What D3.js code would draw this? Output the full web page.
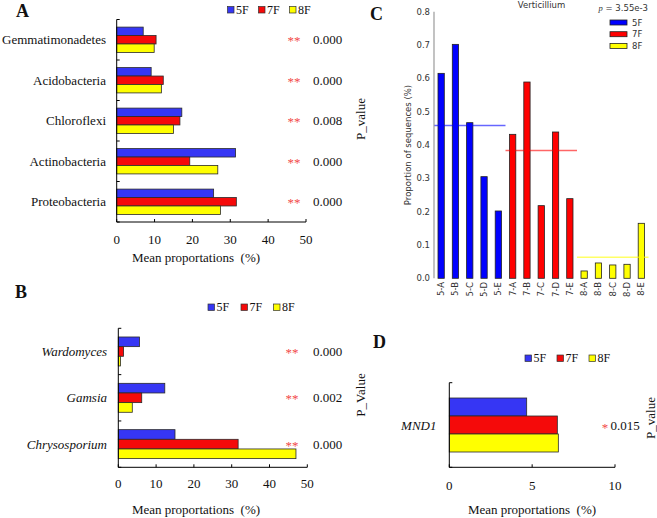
<!DOCTYPE html>
<html>
<head>
<meta charset="utf-8">
<script src="https://cdn.jsdelivr.net/npm/d3@7/dist/d3.min.js"></script>
<style>
  html, body { margin: 0; padding: 0; background: #fff; }
  svg { display: block; }
</style>
</head>
<body>
<script>
// ---------- DATA ----------
const seriesNames = ["5F", "7F", "8F"];

// Panel A (bacteria phyla)
const catA = ["Gemmatimonadetes", "Acidobacteria", "Chloroflexi", "Actinobacteria", "Proteobacteria"];
const a5F = [7.0, 9.1, 17.2, 31.4, 25.6];
const a7F = [10.4, 12.3, 16.7, 19.3, 31.6];
const a8F = [9.9, 11.8, 15.0, 26.7, 27.4];
const sigA = ["**", "**", "**", "**", "**"];
const pA = ["0.000", "0.000", "0.008", "0.000", "0.000"];
const ticksA = [0, 10, 20, 30, 40, 50];

// Panel B (fungal genera)
const catB = ["Wardomyces", "Gamsia", "Chrysosporium"];
const b5F = [5.6, 12.3, 15.0];
const b7F = [1.4, 6.2, 31.7];
const b8F = [0.6, 3.7, 47.0];
const sigB = ["**", "**", "**"];
const pB = ["0.000", "0.002", "0.000"];
const ticksB = [0, 10, 20, 30, 40, 50];

// Panel C (Verticillium per sample)
const samplesC = ["5-A","5-B","5-C","5-D","5-E","7-A","7-B","7-C","7-D","7-E","8-A","8-B","8-C","8-D","8-E"];
const groupC = ["5F","5F","5F","5F","5F","7F","7F","7F","7F","7F","8F","8F","8F","8F","8F"];
const valuesC = [0.615, 0.702, 0.467, 0.305, 0.202, 0.432, 0.589, 0.218, 0.439, 0.239, 0.022, 0.046, 0.040, 0.042, 0.165];
const ticksC = [0.0, 0.1, 0.2, 0.3, 0.4, 0.5, 0.6, 0.7, 0.8];
const titleC = "Verticillium";
const pC = "3.55e-3";

// Panel D (gene)
const catD = ["MND1"];
const d5F = [4.67];
const d7F = [6.52];
const d8F = [6.58];
const sigD = ["*"];
const pD = ["0.015"];
const ticksD = [0, 5, 10];

// ---------- STYLE ----------
const colorsHB = { "5F": "#3636f4", "7F": "#f50a0a", "8F": "#ffff00" };
const colorsC = { "5F": "#0000ff", "7F": "#ff0000", "8F": "#ffff00" };
const serif = "'Liberation Serif', 'Times New Roman', serif";
const sans = "'DejaVu Sans', sans-serif";

const W = 657, H = 518;
const svg = d3.select("body").append("svg").attr("width", W).attr("height", H);

function hbarPanel(o) {
  const g = svg.append("g");
  const x = d3.scaleLinear().domain(o.xDomain).range([o.x0, o.x1]);
  const y = d3.scaleBand().domain(o.cats).range([o.y0, o.y1]);
  const inner = d3.scaleBand().domain(seriesNames).range([0, y.bandwidth()]).paddingOuter(o.outer);
  const rows = o.cats.map((c, i) => ({ cat: c, vals: [o.s5[i], o.s7[i], o.s8[i]] }));

  rows.forEach(r => {
    r.vals.forEach((v, j) => {
      g.append("rect")
        .attr("x", x(0))
        .attr("y", y(r.cat) + inner(seriesNames[j]))
        .attr("width", x(v) - x(0))
        .attr("height", inner.bandwidth())
        .attr("fill", colorsHB[seriesNames[j]])
        .attr("stroke", "#2a2a2a")
        .attr("stroke-width", 0.8);
    });
  });

  // axes lines
  g.append("line").attr("x1", x(o.xDomain[0])).attr("x2", x(o.xDomain[0]))
    .attr("y1", o.y0).attr("y2", o.y1).attr("stroke", "#000").attr("stroke-width", 1);
  g.append("line").attr("x1", x(o.xDomain[0])).attr("x2", x(o.xDomain[1]))
    .attr("y1", o.y1).attr("y2", o.y1).attr("stroke", "#000").attr("stroke-width", 1);
  // inward y ticks at band boundaries
  const bounds = o.cats.map(c => y(c)).concat([o.y1]);
  bounds.forEach(b => {
    g.append("line").attr("x1", x(0)).attr("x2", x(0) + 3).attr("y1", b).attr("y2", b)
      .attr("stroke", "#000").attr("stroke-width", 1);
  });
  // x ticks inward + labels
  o.ticks.forEach(t => {
    g.append("line").attr("x1", x(t)).attr("x2", x(t)).attr("y1", o.y1).attr("y2", o.y1 - 3)
      .attr("stroke", "#000").attr("stroke-width", 1);
    g.append("text").attr("x", x(t)).attr("y", o.tickY).attr("text-anchor", "middle")
      .attr("font-family", serif).attr("font-size", 13).attr("fill", "#111").text(t);
  });
  g.append("text").attr("x", o.titleX).attr("y", o.titleY).attr("text-anchor", "middle")
    .attr("font-family", serif).attr("font-size", 13).attr("fill", "#111")
    .attr("xml:space", "preserve").text("Mean proportations  (%)");

  // category labels
  o.cats.forEach(c => {
    g.append("text").attr("x", o.labelX).attr("y", y(c) + y.bandwidth() / 2 + 4.5)
      .attr("text-anchor", "end").attr("font-family", serif).attr("font-size", 13)
      .attr("font-style", o.italic ? "italic" : "normal").attr("fill", "#111").text(c);
  });
  // significance + p-values
  o.cats.forEach((c, i) => {
    g.append("text").attr("x", o.starX).attr("y", y(c) + y.bandwidth() / 2 + (o.sig[i].length > 1 ? 5.5 : 7))
      .attr("text-anchor", "middle").attr("font-family", serif).attr("font-size", 13)
      .attr("fill", "#f24848").text(o.sig[i]);
    g.append("text").attr("x", o.pX).attr("y", y(c) + y.bandwidth() / 2 + 4.5)
      .attr("font-family", serif).attr("font-size", 13).attr("fill", "#111").text(o.p[i]);
  });
  // legend
  seriesNames.forEach((s, j) => {
    g.append("rect").attr("x", o.legX[j]).attr("y", o.legY).attr("width", 6.5).attr("height", 6.5)
      .attr("fill", colorsHB[s]).attr("stroke", "#333").attr("stroke-width", 0.7);
    g.append("text").attr("x", o.legX[j] + 8.5).attr("y", o.legY + 7)
      .attr("font-family", serif).attr("font-size", 12).attr("fill", "#111").text(s);
  });
  // panel letter
  g.append("text").attr("x", o.letterX).attr("y", o.letterY).attr("font-family", serif)
    .attr("font-weight", "bold").attr("font-size", 18).attr("fill", "#111").text(o.letter);
}

// Panel A
hbarPanel({
  cats: catA, s5: a5F, s7: a7F, s8: a8F, sig: sigA, p: pA, ticks: ticksA,
  xDomain: [0, 50], x0: 116.7, x1: 306, y0: 19.5, y1: 222, outer: 0.9,
  tickY: 244, titleX: 196, titleY: 262, labelX: 106, italic: false,
  starX: 294, pX: 313, legX: [227.5, 258.5, 289.5], legY: 6.5,
  letter: "A", letterX: 16, letterY: 17
});

// Panel B
hbarPanel({
  cats: catB, s5: b5F, s7: b7F, s8: b8F, sig: sigB, p: pB, ticks: ticksB,
  xDomain: [0, 50], x0: 118.3, x1: 307.3, y0: 328.3, y1: 467.3, outer: 0.9,
  tickY: 487.5, titleX: 196, titleY: 514, labelX: 107, italic: true,
  starX: 292, pX: 313, legX: [208, 241, 273.5], legY: 304,
  letter: "B", letterX: 15, letterY: 298
});

// Panel D
hbarPanel({
  cats: catD, s5: d5F, s7: d7F, s8: d8F, sig: sigD, p: pD, ticks: ticksD,
  xDomain: [0, 10], x0: 449.3, x1: 615, y0: 382.7, y1: 467.3, outer: 0.85,
  tickY: 489.5, titleX: 532, titleY: 514, labelX: 436.5, italic: true,
  starX: 605, pX: 610.5, legX: [525, 557, 589], legY: 355,
  letter: "D", letterX: 373, letterY: 348
});

// rotated P_value labels
function rotText(txt, cx, cy) {
  svg.append("text").attr("transform", `translate(${cx},${cy}) rotate(-90)`)
    .attr("text-anchor", "middle").attr("font-family", serif).attr("font-size", 13)
    .attr("fill", "#111").text(txt);
}
rotText("P_value", 364.5, 119);
rotText("P_Value", 364.5, 395);
rotText("P_value", 654.5, 418);

// ---------- Panel C ----------
(function () {
  const g = svg.append("g");
  const x = d3.scaleBand().domain(samplesC).range([434, 648.5]).paddingInner(0.56).paddingOuter(0.28);
  const y = d3.scaleLinear().domain([0, 0.8]).range([278.3, 11.7]);
  const step = x.step();

  g.selectAll("rect.bar").data(samplesC).enter().append("rect")
    .attr("x", d => x(d))
    .attr("y", (d, i) => y(valuesC[i]))
    .attr("width", x.bandwidth())
    .attr("height", (d, i) => y(0) - y(valuesC[i]))
    .attr("fill", (d, i) => colorsC[groupC[i]])
    .attr("stroke", "#222").attr("stroke-width", 0.8);

  // group mean lines
  seriesNames.forEach(s => {
    const idx = groupC.map((gname, i) => gname === s ? i : -1).filter(i => i >= 0);
    const m = d3.mean(idx, i => valuesC[i]);
    const xs = x(samplesC[idx[0]]) - step * 0.28;
    const xe = x(samplesC[idx[idx.length - 1]]) + x.bandwidth() + step * 0.28;
    g.append("line").attr("x1", xs).attr("x2", xe).attr("y1", y(m)).attr("y2", y(m))
      .attr("stroke", colorsC[s]).attr("stroke-opacity", 0.6).attr("stroke-width", 1.5);
  });

  // y axis
  g.append("line").attr("x1", 434).attr("x2", 434).attr("y1", y(0.8)).attr("y2", y(0))
    .attr("stroke", "#9a9a9a").attr("stroke-width", 1.2);
  ticksC.forEach(t => {
    g.append("text").attr("x", 430).attr("y", y(t) + 3).attr("text-anchor", "end")
      .attr("font-family", sans).attr("font-size", 8.5).attr("fill", "#333").text(t.toFixed(1));
  });
  // x labels
  samplesC.forEach(s => {
    g.append("text").attr("transform", `translate(${x(s) + x.bandwidth() / 2 + 3},${282}) rotate(-90)`)
      .attr("text-anchor", "end").attr("font-family", sans).attr("font-size", 8.5)
      .attr("fill", "#333").text(s);
  });
  // y title
  g.append("text").attr("transform", `translate(${411},${145}) rotate(-90)`)
    .attr("text-anchor", "middle").attr("font-family", sans).attr("font-size", 8.5)
    .attr("fill", "#333").text("Proportion of sequences (%)");
  // title
  g.append("text").attr("x", 541.5).attr("y", 7.5).attr("text-anchor", "middle")
    .attr("font-family", sans).attr("font-size", 8.5).attr("fill", "#333").text(titleC);
  // p-value
  const pt = g.append("text").attr("x", 648).attr("y", 11).attr("text-anchor", "end")
    .attr("font-family", sans).attr("font-size", 8.5).attr("fill", "#333");
  pt.append("tspan").attr("font-family", serif).attr("font-style", "italic").text("p");
  pt.append("tspan").text(" = " + pC);
  // legend
  seriesNames.forEach((s, j) => {
    const yy = 20 + j * 11.7;
    g.append("rect").attr("x", 610).attr("y", yy).attr("width", 17).attr("height", 5)
      .attr("fill", colorsC[s]).attr("stroke", "#222").attr("stroke-width", 0.8);
    g.append("text").attr("x", 632).attr("y", yy + 5.5).attr("font-family", sans)
      .attr("font-size", 8.5).attr("fill", "#333").text(s);
  });
  // letter
  g.append("text").attr("x", 370).attr("y", 19.5).attr("font-family", serif)
    .attr("font-weight", "bold").attr("font-size", 18).attr("fill", "#111").text("C");
})();
</script>
</body>
</html>
